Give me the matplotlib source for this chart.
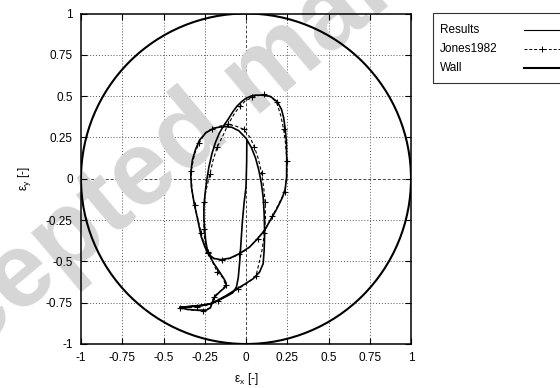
import matplotlib
matplotlib.use("Agg")
import matplotlib.pyplot as plt
from matplotlib.patches import Circle, Rectangle
from matplotlib.lines import Line2D

plt.rcParams['font.family'] = ['Liberation Sans', 'DejaVu Sans']

# Journal orbit, eccentricity ratio components (simulation)
results_x = [0.005, 0.004, 0.0, -0.012, -0.022, -0.030, -0.038, -0.047, -0.058, -0.080,
             -0.117, -0.160, -0.200, -0.250, -0.310, -0.370, -0.400,
             -0.360, -0.300, -0.240, -0.215, -0.205, -0.190, -0.160, -0.130, -0.120,
             -0.125, -0.140, -0.160, -0.180, -0.200, -0.215, -0.235, -0.245, -0.250,
             -0.255, -0.255, -0.248, -0.238, -0.225, -0.206, -0.185, -0.162, -0.135,
             -0.108, -0.080, -0.054, -0.025, 0.000, 0.030, 0.055, 0.080, 0.110,
             0.150, 0.190, 0.215, 0.228, 0.238, 0.245, 0.247, 0.246, 0.238, 0.222,
             0.203, 0.180, 0.147, 0.113, 0.065, 0.022, -0.039, -0.097, -0.152,
             -0.195, -0.227, -0.249, -0.271, -0.292, -0.314, -0.331, -0.335, -0.325,
             -0.307, -0.281, -0.242, -0.195, -0.141, -0.087, -0.043, 0.000, 0.032,
             0.058, 0.078, 0.093, 0.104, 0.110, 0.113, 0.110, 0.104, 0.082, 0.043,
             -0.011, -0.065, -0.119, -0.173, -0.216, -0.281, -0.346, -0.400]
results_y = [0.230, 0.100, -0.050, -0.150, -0.260, -0.380, -0.500, -0.600, -0.655, -0.690,
             -0.711, -0.732, -0.752, -0.765, -0.772, -0.776, -0.778,
             -0.790, -0.795, -0.795, -0.780, -0.750, -0.715, -0.685, -0.660, -0.645,
             -0.620, -0.595, -0.565, -0.535, -0.505, -0.475, -0.430, -0.370, -0.310,
             -0.240, -0.170, -0.090, -0.010, 0.070, 0.154, 0.220, 0.275, 0.322,
             0.360, 0.405, 0.440, 0.468, 0.487, 0.500, 0.506, 0.506, 0.505,
             0.497, 0.465, 0.420, 0.370, 0.300, 0.220, 0.120, 0.010, -0.060, -0.110,
             -0.150, -0.195, -0.251, -0.312, -0.368, -0.413, -0.453, -0.480, -0.490,
             -0.482, -0.457, -0.413, -0.352, -0.251, -0.150, -0.049, 0.032, 0.113,
             0.174, 0.235, 0.279, 0.306, 0.316, 0.312, 0.290, 0.245, 0.190,
             0.125, 0.050, -0.028, -0.109, -0.211, -0.332, -0.433, -0.514, -0.565, -0.605,
             -0.640, -0.672, -0.706, -0.737, -0.757, -0.767, -0.773, -0.778]

# Reference orbit (Jones 1982)
jones_x = [-0.400, -0.330, -0.260, -0.215, -0.195, -0.150, -0.123, -0.140, -0.173, -0.200,
           -0.228, -0.250, -0.255, -0.257, -0.255, -0.240, -0.218, -0.200, -0.175, -0.141,
           -0.108, -0.070, -0.035, -0.005, 0.035, 0.070, 0.108, 0.148, 0.185, 0.210,
           0.228, 0.240, 0.247, 0.248, 0.234, 0.200, 0.160, 0.120, 0.070, 0.020,
           -0.040, -0.100, -0.145, -0.195, -0.232, -0.255, -0.272, -0.292, -0.312, -0.327,
           -0.332, -0.312, -0.285, -0.245, -0.206, -0.160, -0.108, -0.060, -0.015, 0.025,
           0.050, 0.075, 0.095, 0.108, 0.116, 0.118, 0.112, 0.097, 0.060, 0.010,
           -0.050, -0.110, -0.170, -0.230, -0.300, -0.400]
jones_y = [-0.785, -0.795, -0.800, -0.780, -0.713, -0.675, -0.645, -0.600, -0.565, -0.510,
           -0.450, -0.375, -0.305, -0.220, -0.140, -0.060, 0.030, 0.110, 0.190, 0.258,
           0.330, 0.395, 0.440, 0.470, 0.492, 0.502, 0.510, 0.498, 0.463, 0.385,
           0.300, 0.209, 0.110, 0.010, -0.080, -0.150, -0.225, -0.300, -0.365, -0.415,
           -0.457, -0.484, -0.494, -0.484, -0.445, -0.390, -0.330, -0.240, -0.160, -0.080,
           0.049, 0.150, 0.215, 0.280, 0.300, 0.318, 0.330, 0.318, 0.300, 0.250,
           0.194, 0.120, 0.032, -0.060, -0.138, -0.240, -0.330, -0.433, -0.591, -0.630,
           -0.668, -0.705, -0.737, -0.762, -0.775, -0.785]

wall_radius = 1.0

tick_values = [-1, -0.75, -0.5, -0.25, 0, 0.25, 0.5, 0.75, 1]
tick_labels = ['-1', '-0.75', '-0.5', '-0.25', '0', '0.25', '0.5', '0.75', '1']

W, H = 560, 388
fig = plt.figure(figsize=(W / 100, H / 100), dpi=100)


def fx(px):
    return px / W


def fy(py):
    return 1 - py / H


ax = fig.add_axes([fx(81), fy(344), (411 - 81) / W, (344 - 13.5) / H])
ax.set_xlim(-1, 1)
ax.set_ylim(-1, 1)

# dotted grid plus dashed zero axes
for v in tick_values:
    if v in (-1, 1):
        continue
    ls = (0, (3, 2)) if v == 0 else (0, (1, 2))
    col = '#444444' if v == 0 else '#555555'
    ax.axvline(v, color=col, lw=0.7, ls=ls, zorder=1)
    ax.axhline(v, color=col, lw=0.7, ls=ls, zorder=1)

# watermark
ax.text(fx(262), fy(76), 'Accepted manuscript', transform=fig.transFigure,
        rotation=40, rotation_mode='anchor', ha='center', va='center',
        fontsize=76, fontweight='bold', color='#d6d6d6', zorder=1.5, clip_on=False)

ax.plot(results_x, results_y, color='black', lw=1.2, zorder=4)
ax.plot(jones_x, jones_y, color='black', lw=0.8, ls=(0, (3, 2)), marker='+',
        ms=4.5, mew=0.8, markevery=2, zorder=3)
ax.add_patch(Circle((0, 0), wall_radius, fill=False, ec='black', lw=1.5, zorder=5))

ax.set_xticks(tick_values)
ax.set_yticks(tick_values)
ax.set_xticklabels(tick_labels)
ax.set_yticklabels(tick_labels)
ax.tick_params(direction='in', top=True, right=True, length=4, width=0.8,
               labelsize=8.5, pad=6)
for s in ax.spines.values():
    s.set_linewidth(1.1)

ax.set_xlabel('ε$_{\\mathregular{x}}$ [-]', fontsize=8.5, labelpad=5)
ax.set_ylabel('ε$_{\\mathregular{y}}$ [-]', fontsize=8.5, labelpad=9)

# key box at the upper right
fig.patches.append(Rectangle((fx(433), fy(83.3)), (620 - 433) / W, (83.3 - 13.3) / H,
                             transform=fig.transFigure, fill=False, ec='#333333', lw=0.8))
names = ['Results', 'Jones1982', 'Wall']
rows = [30, 49.3, 68.3]
for name, r in zip(names, rows):
    fig.text(fx(440), fy(r), name, fontsize=8.5, va='center', ha='left')
fig.lines.append(Line2D([fx(524), fx(575)], [fy(30)] * 2, color='black', lw=0.8,
                        transform=fig.transFigure))
fig.lines.append(Line2D([fx(524), fx(575)], [fy(49.3)] * 2, color='black', lw=0.7,
                        ls=(0, (3, 2)), transform=fig.transFigure))
fig.lines.append(Line2D([fx(542)], [fy(49.3)], color='black', marker='+', ms=4.5,
                        mew=0.7, transform=fig.transFigure))
fig.lines.append(Line2D([fx(524), fx(575)], [fy(68.3)] * 2, color='black', lw=1.5,
                        transform=fig.transFigure))

fig.savefig('out.png', dpi=100)
